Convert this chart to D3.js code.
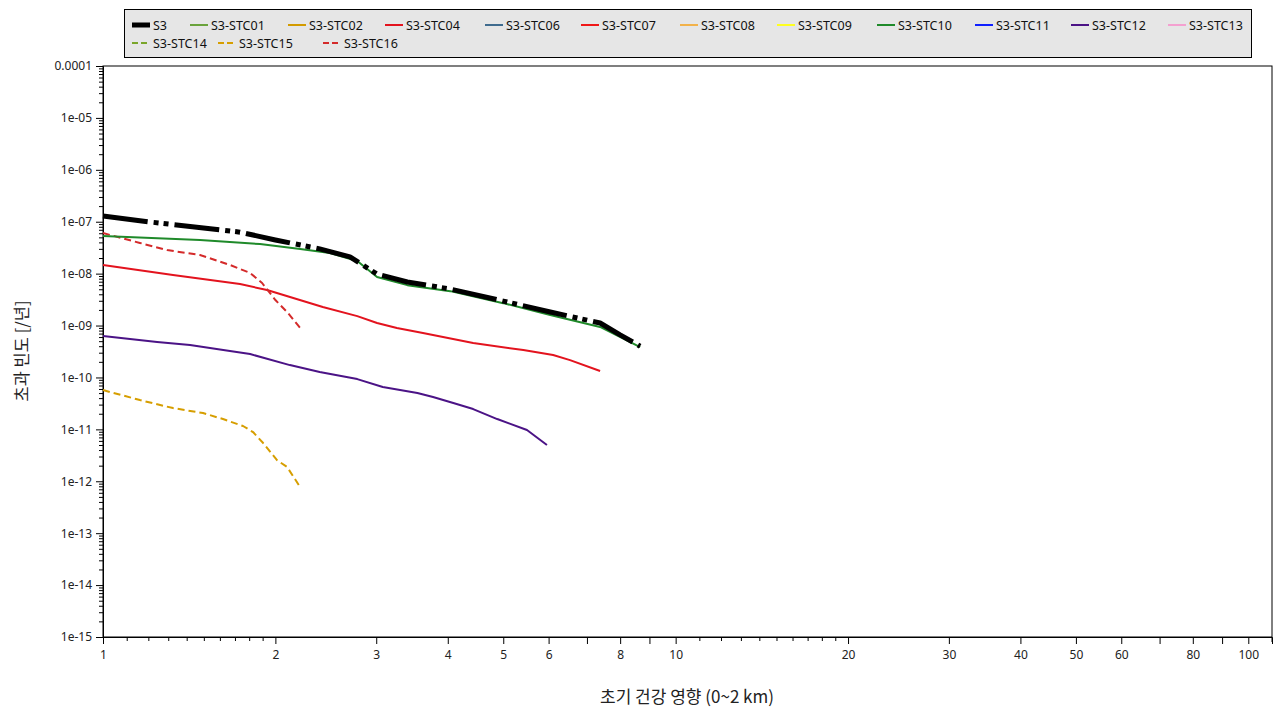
<!DOCTYPE html>
<html><head><meta charset="utf-8">
<script src="https://cdn.jsdelivr.net/npm/d3@7"></script>
<style>
html,body{margin:0;padding:0;background:#fff;}
svg{display:block;font-family:"Noto Sans","Noto Sans CJK KR",sans-serif;}
</style></head>
<body><svg id="c" width="1280" height="720"></svg>
<script>
// ---- data ----
const seriesNames = ["S3","S3-STC01","S3-STC02","S3-STC04","S3-STC06","S3-STC07","S3-STC08","S3-STC09","S3-STC10","S3-STC11","S3-STC12","S3-STC13","S3-STC14","S3-STC15","S3-STC16"];
const s3 = [[1,1.29e-7],[1.208,9.9e-8],[1.735,6.3e-8],[2.0,4.45e-8],[2.39,3.0e-8],[2.70,2.1e-8],[3.01,9.8e-9],[3.40,6.9e-9],[4.04,5.05e-9],[5.0,2.96e-9],[6.04,1.82e-9],[7.38,1.12e-9],[8.0,6.6e-10],[8.67,4.0e-10]];
const stc10 = [[1,5.3e-8],[1.477,4.43e-8],[1.88,3.71e-8],[2.21,2.98e-8],[2.49,2.49e-8],[2.78,1.75e-8],[3.01,8.6e-9],[3.40,6.0e-9],[4.04,4.6e-9],[5.0,2.7e-9],[6.04,1.6e-9],[7.38,9.4e-10],[8.67,3.85e-10]];
const stc04 = [[1,1.47e-8],[1.325,9.4e-9],[1.735,6.3e-9],[1.934,4.83e-9],[2.42,2.27e-9],[2.78,1.52e-9],[3.01,1.12e-9],[3.26,8.95e-10],[3.62,7.17e-10],[4.43,4.6e-10],[5.42,3.37e-10],[6.11,2.7e-10],[6.54,2.16e-10],[7.38,1.33e-10]];
const stc16 = [[1,6.05e-8],[1.16,3.9e-8],[1.294,2.85e-8],[1.477,2.28e-8],[1.666,1.47e-8],[1.807,1.03e-8],[1.896,6.6e-9],[2.0,3.1e-9],[2.097,1.82e-9],[2.21,8.95e-10]];
const stc12 = [[1,6.28e-10],[1.243,4.81e-10],[1.419,4.21e-10],[1.666,3.23e-10],[1.807,2.82e-10],[2.12,1.73e-10],[2.39,1.27e-10],[2.78,9.3e-11],[3.08,6.53e-11],[3.54,5.01e-11],[3.77,4.19e-11],[4.09,3.21e-11],[4.43,2.46e-11],[4.88,1.58e-11],[5.50,9.7e-12],[5.96,5.0e-12]];
const stc15 = [[1,5.71e-11],[1.16,3.67e-11],[1.325,2.57e-11],[1.495,2.06e-11],[1.62,1.58e-11],[1.756,1.16e-11],[1.828,8.88e-12],[1.904,5.45e-12],[2.013,2.56e-12],[2.097,1.88e-12],[2.21,7.7e-13]];
const xMajorTicks = [1,2,3,4,5,6,7,8,9,10,20,30,40,50,60,70,80,90,100];
const xTickLabels = {1:"1",2:"2",3:"3",4:"4",5:"5",6:"6",8:"8",10:"10",20:"20",30:"30",40:"40",50:"50",60:"60",80:"80",100:"100"};
const xMinorTicks = [1.1,1.2,1.3,1.4,1.5,1.6,1.7,1.8,1.9,11,12,13,14,15,16,17,18,19];
const yMajorTicks = [1e-15,1e-14,1e-13,1e-12,1e-11,1e-10,1e-9,1e-8,1e-7,1e-6,1e-5,1e-4];
const yTickLabels = ["1e-15","1e-14","1e-13","1e-12","1e-11","1e-10","1e-09","1e-08","1e-07","1e-06","1e-05","0.0001"];
const xTitle = "초기 건강 영향 (0~2 km)";
const yTitle = "초과 빈도 [/년]";

// ---- styles ----
const styles = {
  "S3":{color:"#000",w:5,dash:"45,6,5,5,5,6"},
  "S3-STC01":{color:"#6aa33c",w:2},
  "S3-STC02":{color:"#d39b00",w:2},
  "S3-STC04":{color:"#e3131e",w:2},
  "S3-STC06":{color:"#3f6b8e",w:2},
  "S3-STC07":{color:"#f01818",w:2},
  "S3-STC08":{color:"#f2b24a",w:2},
  "S3-STC09":{color:"#ffff20",w:2},
  "S3-STC10":{color:"#1f8a2a",w:2},
  "S3-STC11":{color:"#1020ff",w:2},
  "S3-STC12":{color:"#4b1386",w:2},
  "S3-STC13":{color:"#f4a0d0",w:2},
  "S3-STC14":{color:"#7aa62a",w:2,dash:"6,4"},
  "S3-STC15":{color:"#d69e00",w:2,dash:"7,4"},
  "S3-STC16":{color:"#d42a2a",w:2,dash:"7,4"}
};
const plotted = [["S3-STC12",stc12],["S3-STC15",stc15],["S3-STC04",stc04],["S3-STC16",stc16],["S3-STC10",stc10],["S3",s3]];

const svg = d3.select("#c");
const L=103,R=1272,T=66,B=637;
const x = d3.scaleLog().domain([1,110]).range([L,R]);
const y = d3.scaleLog().domain([1e-15,1e-4]).range([B,T]);

// plot frame
svg.append("rect").attr("x",L).attr("y",T).attr("width",R-L).attr("height",B-T)
  .attr("fill","#fff").attr("stroke","#000").attr("stroke-width",1);

// axes
const gx = svg.append("g").attr("transform",`translate(0,${B})`);
gx.call(d3.axisBottom(x).tickValues(xMajorTicks).tickSize(7).tickPadding(6).tickFormat(d=>xTickLabels[d]||""));
const gxm = svg.append("g").attr("transform",`translate(0,${B})`);
gxm.call(d3.axisBottom(x).tickValues(xMinorTicks).tickSize(4).tickFormat(""));
gxm.select(".domain").remove();
svg.append("line").attr("x1",R).attr("x2",R).attr("y1",B).attr("y2",B+5).attr("stroke","#000");

const yMinor=[];
yMajorTicks.forEach((v,i)=>{ if(i<yMajorTicks.length-1) for(let k=2;k<=9;k++) yMinor.push(v*k); });
const gy = svg.append("g").attr("transform",`translate(${L},0)`);
gy.call(d3.axisLeft(y).tickValues(yMajorTicks).tickSize(7).tickPadding(4).tickFormat((d,i)=>yTickLabels[i]));
const gym = svg.append("g").attr("transform",`translate(${L},0)`);
gym.call(d3.axisLeft(y).tickValues(yMinor).tickSize(4).tickFormat(""));
gym.select(".domain").remove();
svg.selectAll(".tick text").attr("font-size",12).attr("fill","#222").attr("font-family","Noto Sans, sans-serif");
svg.selectAll(".domain").attr("stroke","#000");

// lines
const line = d3.line().x(d=>x(d[0])).y(d=>y(d[1]));
plotted.forEach(([name,data])=>{
  const s=styles[name];
  svg.append("path").datum(data).attr("d",line).attr("fill","none")
    .attr("stroke",s.color).attr("stroke-width",s.w)
    .attr("stroke-dasharray",s.dash||null).attr("stroke-linejoin","round");
});

// titles
svg.append("text").attr("x",687).attr("y",703).attr("text-anchor","middle")
  .attr("font-size",17).attr("fill","#222").attr("font-family","Noto Sans CJK KR, sans-serif").text(xTitle);
svg.append("text").attr("transform","translate(28,351) rotate(-90)").attr("text-anchor","middle")
  .attr("font-size",16.5).attr("fill","#222").attr("font-family","Noto Sans CJK KR, sans-serif").text(yTitle);

// legend
svg.append("rect").attr("x",124.5).attr("y",9.5).attr("width",1127).attr("height",48)
  .attr("fill","#e6e6e6").attr("stroke","#000");
const legendPos = [[132,25],[190,25],[288,25],[385,25],[485,25],[581,25],[680,25],[777,25],[877,25],[975,25],[1071,25],[1168,25],[132,43],[218,43],[323,43]];
seriesNames.forEach((n,i)=>{
  const s=styles[n]; const [lx,ly]=legendPos[i];
  svg.append("line").attr("x1",lx).attr("x2",lx+18).attr("y1",ly).attr("y2",ly)
    .attr("stroke",s.color).attr("stroke-width",n==="S3"?5:2)
    .attr("stroke-dasharray",s.dash&&n!=="S3"?"6,3":null);
  svg.append("text").attr("x",lx+21).attr("y",ly+4.5).attr("font-size",12.5).attr("fill","#111").text(n);
});
</script></body></html>
